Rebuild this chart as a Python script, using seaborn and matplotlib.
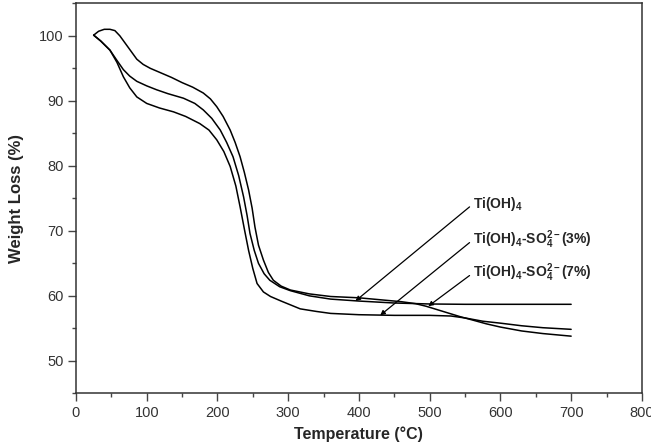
import numpy as np
import pandas as pd
import matplotlib
matplotlib.use("Agg")
import matplotlib.pyplot as plt
import seaborn as sns
from matplotlib.ticker import MultipleLocator

# --- data (temperature in C, weight in %) ---
t_7 = [25, 32, 40, 48, 55, 62, 70, 78, 86, 95, 105, 120, 135, 150, 165, 180, 190, 199,
       208, 218, 225, 232, 238, 244, 249, 253, 258, 265, 272, 279, 290, 303, 330, 360,
       400, 430, 460, 480, 495, 510, 525, 543, 560, 580, 600, 630, 660, 700]
w_7 = [100.1, 100.7, 101.0, 101.0, 100.8, 100.0, 98.8, 97.6, 96.4, 95.6, 95.0, 94.3, 93.6,
       92.8, 92.1, 91.2, 90.3, 89.1, 87.6, 85.5, 83.6, 81.4, 79.0, 76.3, 73.5, 70.6, 67.8,
       65.5, 63.6, 62.4, 61.5, 60.9, 60.3, 59.9, 59.7, 59.4, 59.1, 58.8, 58.4, 57.9, 57.4,
       56.8, 56.3, 55.7, 55.2, 54.6, 54.2, 53.8]

t_0 = [25, 35, 48, 58, 67, 76, 86, 100, 114, 130, 152, 168, 180, 192, 204, 213, 222, 230,
       237, 242, 246, 252, 258, 266, 274, 288, 303, 330, 360, 400, 450, 500, 550, 600, 650, 700]
w_0 = [100.1, 99.2, 97.8, 96.2, 94.8, 93.8, 93.0, 92.3, 91.7, 91.1, 90.4, 89.6, 88.6, 87.3,
       85.5, 83.6, 81.4, 78.5, 75.2, 72.3, 69.6, 67.0, 65.0, 63.4, 62.4, 61.4, 60.8, 60.0,
       59.5, 59.2, 58.9, 58.75, 58.7, 58.7, 58.7, 58.7]

t_3 = [25, 35, 48, 58, 67, 76, 86, 100, 118, 138, 155, 175, 188, 199, 209, 218, 226, 232,
       238, 244, 250, 256, 265, 275, 290, 317, 340, 360, 400, 450, 500, 530, 550, 575, 600,
       630, 660, 700]
w_3 = [100.1, 99.2, 97.8, 95.9, 93.7, 92.0, 90.6, 89.6, 88.9, 88.3, 87.6, 86.5, 85.5, 84.0,
       82.2, 79.9, 76.9, 73.7, 70.3, 67.0, 64.2, 61.9, 60.6, 59.9, 59.2, 58.0, 57.6, 57.3,
       57.1, 57.0, 57.0, 56.9, 56.6, 56.1, 55.8, 55.4, 55.1, 54.85]

labels = [r"Ti(OH)$_4$", r"Ti(OH)$_4$-SO$_4^{2-}$(3%)", r"Ti(OH)$_4$-SO$_4^{2-}$(7%)"]
label_xy = [(561, 74.1), (561, 68.6), (561, 63.5)]
arrow_tip = [(395, 59.2), (430, 57.0), (498, 58.4)]

x_ticks = [0, 100, 200, 300, 400, 500, 600, 700, 800]
y_ticks = [50, 60, 70, 80, 90, 100]

df = pd.concat([
    pd.DataFrame({"T": t_0, "W": w_0, "sample": "Ti(OH)4"}),
    pd.DataFrame({"T": t_3, "W": w_3, "sample": "3%"}),
    pd.DataFrame({"T": t_7, "W": w_7, "sample": "7%"}),
])

sns.set_theme(style="ticks")
plt.rcParams["font.family"] = ["Liberation Sans", "DejaVu Sans"]
plt.rcParams["mathtext.fontset"] = "custom"
plt.rcParams["mathtext.rm"] = "Liberation Sans:bold"
plt.rcParams["mathtext.it"] = "Liberation Sans:bold"
plt.rcParams["mathtext.bf"] = "Liberation Sans:bold"

fig, ax = plt.subplots(figsize=(6.51, 4.46), dpi=100)
fig.subplots_adjust(left=0.1167, right=0.986, bottom=0.118, top=0.9926)

sns.lineplot(data=df, x="T", y="W", units="sample", estimator=None, sort=False,
             color="black", lw=1.1, ax=ax, legend=False)

ax.set_xlim(0, 800)
ax.set_ylim(45, 105)
ax.set_xticks(x_ticks)
ax.set_yticks(y_ticks)
ax.xaxis.set_minor_locator(MultipleLocator(50))
ax.yaxis.set_minor_locator(MultipleLocator(5))
ax.tick_params(which="major", direction="out", length=5.5, width=1.0, colors="#444",
               labelsize=10.5, labelcolor="#333")
ax.tick_params(which="minor", direction="out", length=3, width=1.0, colors="#444")
for s in ax.spines.values():
    s.set_linewidth(1.1)
    s.set_color("#333")

ax.set_xlabel("Temperature (°C)", fontsize=11.5, fontweight="bold", labelpad=5)
ax.set_ylabel("Weight Loss (%)", fontsize=12, fontweight="bold", labelpad=11)

for lab, pos, tip in zip(labels, label_xy, arrow_tip):
    ax.annotate(lab, xy=tip, xytext=pos, fontsize=10, fontweight="bold",
                ha="left", va="center",
                arrowprops=dict(arrowstyle="-|>", color="black", lw=0.9,
                                mutation_scale=7, shrinkA=0, shrinkB=0,
                                relpos=(0, 0.5)))

fig.savefig("out.png", dpi=100)
